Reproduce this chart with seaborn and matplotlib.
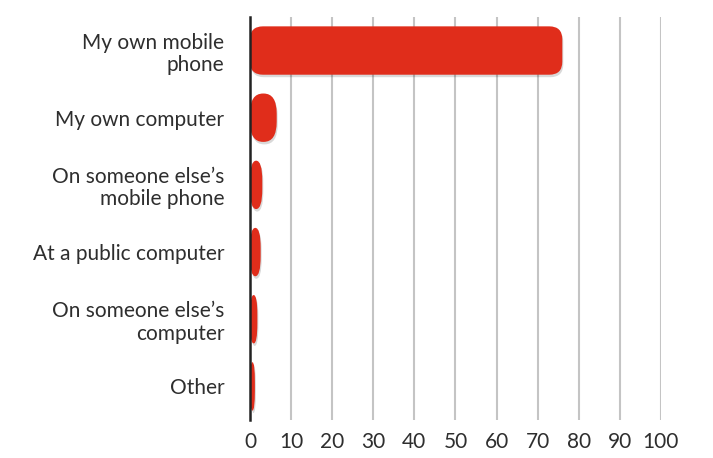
import matplotlib
matplotlib.use("Agg")
import matplotlib.pyplot as plt
import seaborn as sns
import pandas as pd
from matplotlib.patches import FancyBboxPatch

categories = ["My own mobile\nphone", "My own computer", "On someone else\u2019s\nmobile phone",
              "At a public computer", "On someone else\u2019s\ncomputer", "Other"]
values = [76, 6.5, 3, 2.6, 1.8, 1.2]
xticks = [0, 10, 20, 30, 40, 50, 60, 70, 80, 90, 100]

sns.set_theme(style="white")
plt.rcParams['font.family'] = ['Lato', 'DejaVu Sans']

df = pd.DataFrame({"cat": categories, "val": values})

fig = plt.figure(figsize=(7.13, 4.58), dpi=100)
ax = fig.add_axes([0.3506, 0.083, 0.927 - 0.3506, 0.963 - 0.083])
sns.barplot(data=df, y="cat", x="val", orient="h", color="#e02d1b", width=0.72, ax=ax,
            saturation=1)
ax.set_xlim(0, 100)
ax.set_ylim(5.5, -0.5)
ax.set_xticks(xticks)
ax.set_xticklabels([str(t) for t in xticks])
ax.set_xlabel("")
ax.set_ylabel("")
ax.grid(axis="x", color="#c4c4c4", linewidth=1.5)
ax.set_axisbelow(True)
for s in ["top", "right", "bottom"]:
    ax.spines[s].set_visible(False)
ax.spines["left"].set_color("#222222")
ax.spines["left"].set_linewidth(1.8)
ax.spines["left"].set_zorder(5)
ax.tick_params(axis="both", length=0, labelsize=15, labelcolor="#2e2e2e")
ax.tick_params(axis="y", pad=18.5)
ax.tick_params(axis="x", pad=9)
for lab in ax.get_yticklabels():
    lab.set_linespacing(1.15)

fig.canvas.draw()
bbox = ax.get_window_extent()
px_per_x = bbox.width / 100.0
px_per_y = bbox.height / 6.0
for p in list(ax.patches):
    x0, y0 = p.get_x(), p.get_y()
    w, h = p.get_width(), p.get_height()
    p.remove()
    w_px = w * px_per_x
    h_px = abs(h) * px_per_y
    rx = min(13.0, w_px / 2.0)
    ry = 13.0 if w_px >= 40 else 20.0
    ry = min(ry, h_px / 2.0)
    r_x = rx / px_per_x
    ma = (ry / px_per_y) / r_x
    sh = FancyBboxPatch((x0 + 1.0 / px_per_x, y0 + 2.5 / px_per_y), w, h,
                        boxstyle=f"round,pad=0,rounding_size={r_x}",
                        mutation_aspect=ma, facecolor="#000000", alpha=0.15,
                        edgecolor="none", zorder=2)
    ax.add_patch(sh)
    fb = FancyBboxPatch((x0, y0), w, h,
                        boxstyle=f"round,pad=0,rounding_size={r_x}",
                        mutation_aspect=ma, facecolor="#e02d1b",
                        edgecolor="none", zorder=3)
    ax.add_patch(fb)

fig.savefig("out.png", dpi=100, facecolor="white")
